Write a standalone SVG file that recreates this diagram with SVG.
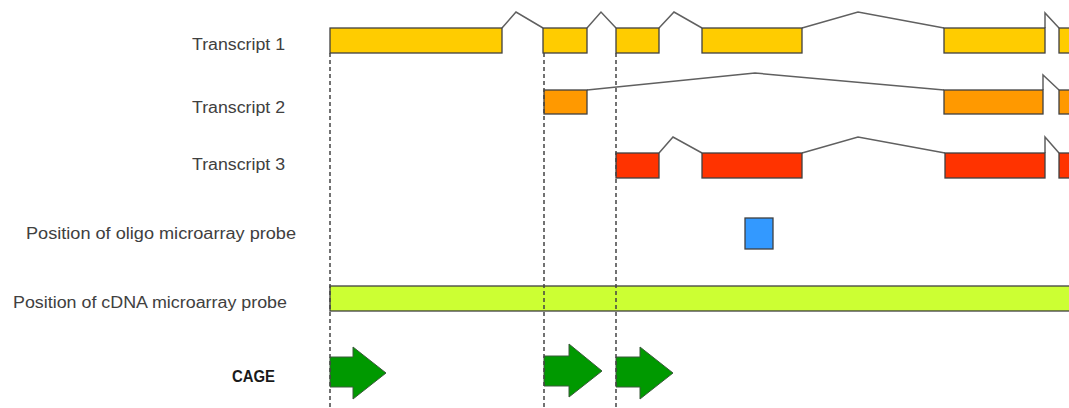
<svg xmlns="http://www.w3.org/2000/svg" width="1069" height="408" viewBox="0 0 1069 408">
<style>
.lbl{font-family:"Liberation Sans",Arial,sans-serif;font-size:16px;fill:#404040}
.bold{font-weight:bold;fill:#1a1a1a}
.exon{stroke:#404040;stroke-width:1.3}
.t1{fill:#FFCC00}.t2{fill:#FF9900}.t3{fill:#FF3300}
.intron{fill:none;stroke:#606060;stroke-width:1.5;stroke-linejoin:miter}
.guide{stroke:#444;stroke-width:1.5;stroke-dasharray:4 3;fill:none}
.cage{fill:#009900;stroke:#3a5a3a;stroke-width:1}
</style>
<rect width="1069" height="408" fill="#fff"/>
<g id="labels">
<text class="lbl" x="285" y="50" text-anchor="end" textLength="93" lengthAdjust="spacingAndGlyphs">Transcript 1</text>
<text class="lbl" x="285" y="113" text-anchor="end" textLength="93" lengthAdjust="spacingAndGlyphs">Transcript 2</text>
<text class="lbl" x="285" y="170" text-anchor="end" textLength="93" lengthAdjust="spacingAndGlyphs">Transcript 3</text>
<text class="lbl" x="26" y="239" textLength="270" lengthAdjust="spacingAndGlyphs">Position of oligo microarray probe</text>
<text class="lbl" x="13" y="308" textLength="274" lengthAdjust="spacingAndGlyphs">Position of cDNA microarray probe</text>
<text class="lbl bold" x="232" y="382" textLength="43" lengthAdjust="spacingAndGlyphs">CAGE</text>
</g>
<g id="connectors">
<polyline class="intron" points="502,28 516,12 543,28"/>
<polyline class="intron" points="587,28 601,12 616,28"/>
<polyline class="intron" points="659,28 674,12 702,28"/>
<polyline class="intron" points="802,28 858,12 944,28"/>
<polyline class="intron" points="1045,28 1045,13 1059,28"/>
<polyline class="intron" points="587,90 755,73 944,90"/>
<polyline class="intron" points="1043,90 1043,75 1059,90"/>
<polyline class="intron" points="659,153 673,137 702,153"/>
<polyline class="intron" points="802,153 858,137 945,153"/>
<polyline class="intron" points="1045,153 1045,137 1059,153"/>
</g>
<g id="transcript1">
<rect class="exon t1" x="330" y="28" width="172" height="25"/>
<rect class="exon t1" x="543" y="28" width="44" height="25"/>
<rect class="exon t1" x="616" y="28" width="43" height="25"/>
<rect class="exon t1" x="702" y="28" width="100" height="25"/>
<rect class="exon t1" x="944" y="28" width="101" height="25"/>
<rect class="exon t1" x="1059" y="28" width="20" height="25"/>
</g>
<g id="transcript2">
<rect class="exon t2" x="544" y="90" width="43" height="24"/>
<rect class="exon t2" x="944" y="90" width="99" height="24"/>
<rect class="exon t2" x="1059" y="90" width="20" height="24"/>
</g>
<g id="transcript3">
<rect class="exon t3" x="616" y="153" width="43" height="25"/>
<rect class="exon t3" x="702" y="153" width="100" height="25"/>
<rect class="exon t3" x="945" y="153" width="100" height="25"/>
<rect class="exon t3" x="1059" y="153" width="20" height="25"/>
</g>
<g id="oligo-probe">
<rect x="745" y="218" width="28" height="31" fill="#3399FF" stroke="#404040" stroke-width="1.3"/>
</g>
<g id="cdna-probe">
<rect x="330" y="286" width="750" height="25" fill="#CCFF33" stroke="#404040" stroke-width="1.3"/>
</g>
<g id="cage">
<polygon class="cage" points="330,357 353,357 353,347 386,373 353,399 353,387 330,387"/>
<polygon class="cage" points="544,356 569,356 569,344 602,371 569,397 569,386 544,386"/>
<polygon class="cage" points="616,357 640,357 640,347 673,373 640,399 640,387 616,387"/>
</g>
<g id="guides">
<line class="guide" x1="330" y1="53" x2="330" y2="408"/>
<line class="guide" x1="544" y1="53" x2="544" y2="408"/>
<line class="guide" x1="616" y1="53" x2="616" y2="408"/>
</g>
</svg>
